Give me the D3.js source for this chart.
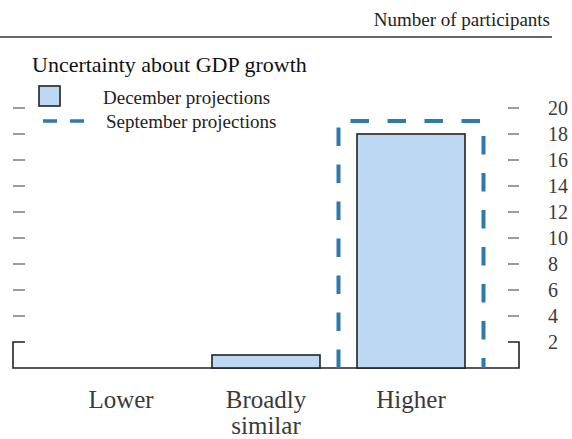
<!DOCTYPE html>
<html>
<head>
<meta charset="utf-8">
<script src="https://cdn.jsdelivr.net/npm/d3@7"></script>
<style>
  html, body { margin: 0; padding: 0; background: #fff; }
  svg { display: block; font-family: "Liberation Serif", "Times New Roman", serif; }
</style>
</head>
<body>
<svg id="chart" width="572" height="439"></svg>
<script>
// ---- data ----
const categories = ["Lower", "Broadly similar", "Higher"];
const categoryLines = [["Lower"], ["Broadly", "similar"], ["Higher"]];
const decemberValues = [0, 1, 18];
const septemberValues = [0, 0, 19];
const yTicks = [2, 4, 6, 8, 10, 12, 14, 16, 18, 20];
const title = "Uncertainty about GDP growth";
const unitLabel = "Number of participants";
const legendLabels = ["December projections", "September projections"];

// ---- styles ----
const barFill = "#bdd8f3";
const barStroke = "#222";
const sepColor = "#2f79ad";
const textColor = "#3a3a3a";

const svg = d3.select("#chart");

const x = d3.scaleBand()
  .domain(categories)
  .range([48.5, 483.5])
  .paddingInner(0.2552)
  .paddingOuter(0.1276);

const y = d3.scaleLinear().domain([0, 20]).range([368, 108]);

const axisLeftX = 13, axisRightX = 519;

// header rule & unit label
svg.append("line").attr("x1", 0).attr("x2", 552).attr("y1", 37).attr("y2", 37)
  .attr("stroke", "#333").attr("stroke-width", 1.3);
svg.append("text").attr("x", 550).attr("y", 26).attr("text-anchor", "end")
  .attr("font-size", 19).attr("fill", "#222").text(unitLabel);

// title
svg.append("text").attr("x", 32).attr("y", 72)
  .attr("font-size", 22).attr("fill", "#111").text(title);

// left & right ticks
const tickG = svg.append("g");
yTicks.filter(t => t !== 2).forEach(t => {
  tickG.append("line").attr("x1", axisLeftX).attr("x2", axisLeftX + 12)
    .attr("y1", y(t)).attr("y2", y(t)).attr("stroke", "#666").attr("stroke-width", 1.3);
  tickG.append("line").attr("x1", axisRightX - 11).attr("x2", axisRightX)
    .attr("y1", y(t)).attr("y2", y(t)).attr("stroke", "#666").attr("stroke-width", 1.3);
});

// right axis labels
const yAxis = d3.axisRight(y).tickValues(yTicks).tickSize(0).tickPadding(0);
const ya = svg.append("g").attr("transform", `translate(548,0)`).call(yAxis);
ya.select(".domain").remove();
ya.selectAll("text").attr("font-size", 20).attr("fill", textColor)
  .attr("font-family", "Liberation Serif, serif").attr("text-anchor", "start");

// frame: baseline with end brackets up to 2
svg.append("path")
  .attr("d", `M${axisLeftX + 12},${y(2)} H${axisLeftX} V${y(0)} H${axisRightX} V${y(2)} H${axisRightX - 11}`)
  .attr("fill", "none").attr("stroke", "#222").attr("stroke-width", 1.6);

// december bars
const bw = x.bandwidth();
svg.append("g").selectAll("rect")
  .data(categories.map((c, i) => ({ c, v: decemberValues[i] })).filter(d => d.v > 0))
  .join("rect")
  .attr("x", d => x(d.c))
  .attr("y", d => y(d.v))
  .attr("width", bw)
  .attr("height", d => y(0) - y(d.v))
  .attr("fill", barFill)
  .attr("stroke", barStroke)
  .attr("stroke-width", 1.6);

// september outlines (full step width)
const pad = (x.step() - bw) / 2;
svg.append("g").selectAll("path")
  .data(categories.map((c, i) => ({ c, v: septemberValues[i] })).filter(d => d.v > 0))
  .join("path")
  .attr("d", d => {
    const x0 = x(d.c) - pad, x1 = x(d.c) + bw + pad;
    return `M${x0},${y(0)} V${y(d.v)} H${x1} V${y(0)}`;
  })
  .attr("fill", "none")
  .attr("stroke", sepColor)
  .attr("stroke-width", 4)
  .attr("stroke-dasharray", "18.5,18.5");

// category labels
svg.append("g").selectAll("text")
  .data(categories.map((c, i) => ({ c, lines: categoryLines[i] })))
  .join("text")
  .attr("x", d => x(d.c) + bw / 2)
  .attr("y", 408)
  .attr("text-anchor", "middle")
  .attr("font-size", 25)
  .attr("fill", textColor)
  .selectAll("tspan")
  .data(d => d.lines)
  .join("tspan")
  .attr("x", function() { return d3.select(this.parentNode).attr("x"); })
  .attr("dy", (d, i) => i === 0 ? 0 : 26)
  .text(d => d);

// legend
svg.append("rect").attr("x", 39).attr("y", 86).attr("width", 21).attr("height", 20)
  .attr("fill", barFill).attr("stroke", barStroke).attr("stroke-width", 1.6);
svg.append("line").attr("x1", 43).attr("x2", 84).attr("y1", 121).attr("y2", 121)
  .attr("stroke", sepColor).attr("stroke-width", 3.5).attr("stroke-dasharray", "14,13");
svg.append("text").attr("x", 103).attr("y", 104).attr("font-size", 19)
  .attr("fill", "#222").text(legendLabels[0]);
svg.append("text").attr("x", 106).attr("y", 128).attr("font-size", 19)
  .attr("fill", "#222").text(legendLabels[1]);
</script>
</body>
</html>
